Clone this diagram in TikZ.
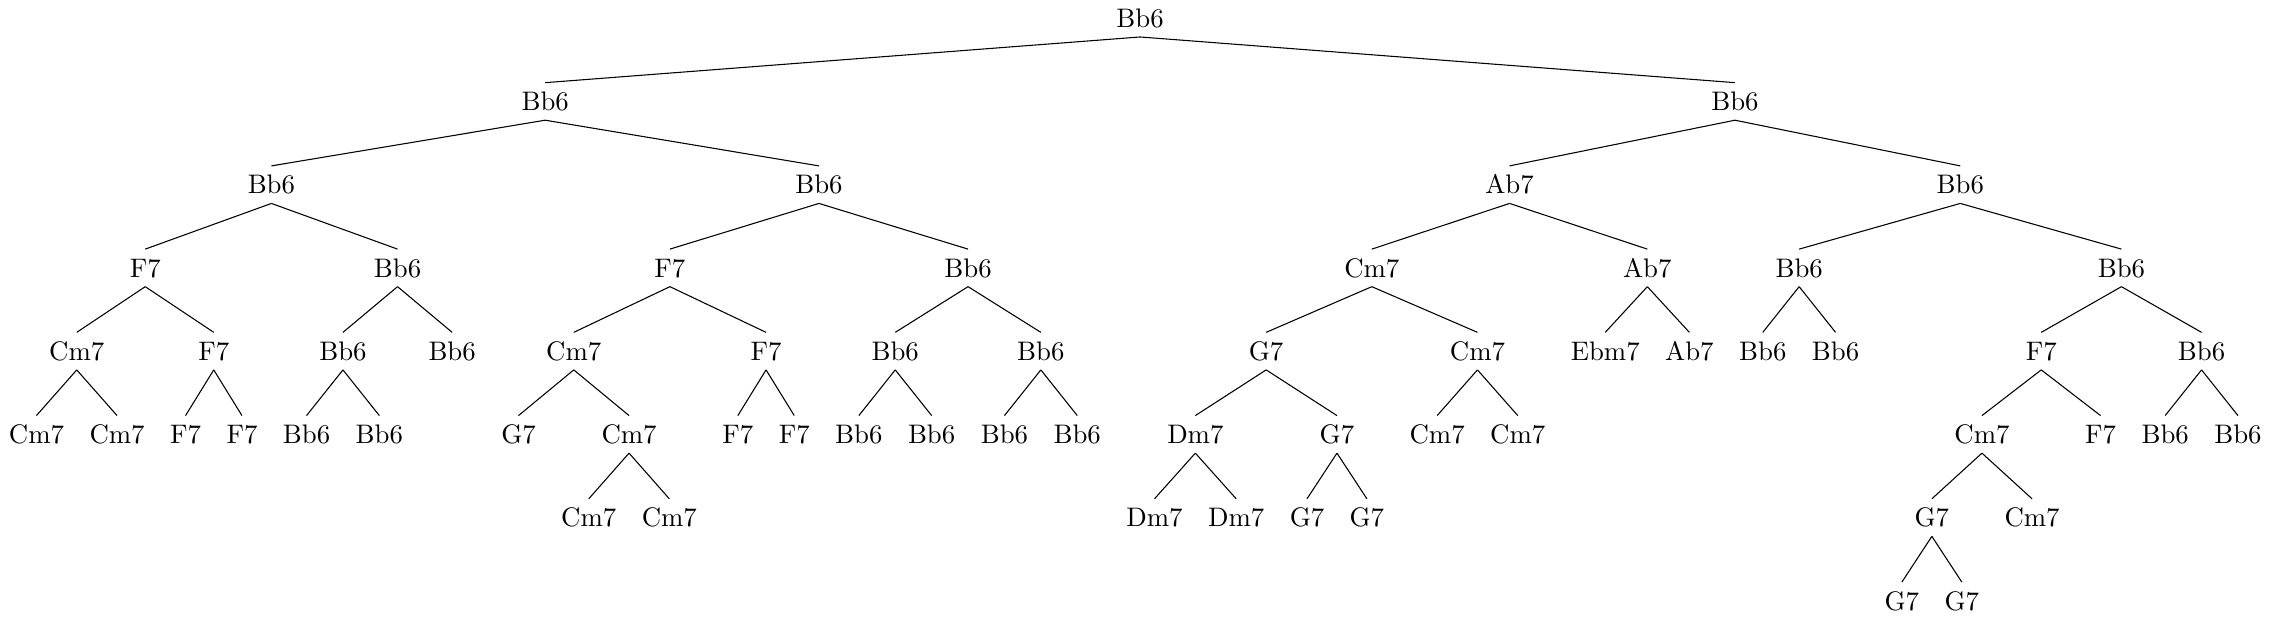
\documentclass[tikz,border=0pt]{standalone}
\begin{document}
\begin{tikzpicture}[x=0.37313pt,y=-0.37313pt,
  tn/.style={inner sep=3.333pt,text height=6.94pt,text depth=0pt,anchor=center},
  edge/.style={line width=0.4pt}]
\useasboundingbox (0,0) rectangle (2271,619);
\def\LA{18.2}\def\LB{101.43}\def\LC{184.66}\def\LD{267.89}
\def\LE{351.12}\def\LF{434.35}\def\LG{517.58}\def\LH{600.81}
% level 0
\node[tn] (r) at (1140.05,\LA) {Bb6};
% level 1
\node[tn] (a) at (545.19,\LB) {Bb6};
\node[tn] (b) at (1734.92,\LB) {Bb6};
% level 2
\node[tn] (aa) at (271.4,\LC) {Bb6};
\node[tn] (ab) at (818.98,\LC) {Bb6};
\node[tn] (ba) at (1509.56,\LC) {Ab7};
\node[tn] (bb) at (1960.28,\LC) {Bb6};
% level 3
\node[tn] (aaa) at (145.25,\LD) {F7};
\node[tn] (aab) at (397.55,\LD) {Bb6};
\node[tn] (aba) at (669.91,\LD) {F7};
\node[tn] (abb) at (968.05,\LD) {Bb6};
\node[tn] (baa) at (1371.8,\LD) {Cm7};
\node[tn] (bab) at (1647.33,\LD) {Ab7};
\node[tn] (bba) at (1799.15,\LD) {Bb6};
\node[tn] (bbb) at (2121.4,\LD) {Bb6};
% level 4
\node[tn] (aaaa) at (76.75,\LE) {Cm7};
\node[tn] (aaab) at (213.75,\LE) {F7};
\node[tn] (aaba) at (342.95,\LE) {Bb6};
\node[tn] (aabb) at (452.15,\LE) {Bb6};
\node[tn] (abaa) at (573.78,\LE) {Cm7};
\node[tn] (abab) at (766.05,\LE) {F7};
\node[tn] (abba) at (895.25,\LE) {Bb6};
\node[tn] (abbb) at (1040.85,\LE) {Bb6};
\node[tn] (baaa) at (1266.15,\LE) {G7};
\node[tn] (baab) at (1477.45,\LE) {Cm7};
\node[tn] (baba) at (1605.25,\LE) {Ebm7};
\node[tn] (babb) at (1689.4,\LE) {Ab7};
\node[tn] (bbaa) at (1762.75,\LE) {Bb6};
\node[tn] (bbab) at (1835.55,\LE) {Bb6};
\node[tn] (bbba) at (2041.25,\LE) {F7};
\node[tn] (bbbb) at (2201.55,\LE) {Bb6};
% level 5
\node[tn] (aaaaa) at (36.45,\LF) {Cm7};
\node[tn] (aaaab) at (117.05,\LF) {Cm7};
\node[tn] (aaaba) at (185.55,\LF) {F7};
\node[tn] (aaabb) at (241.95,\LF) {F7};
\node[tn] (aabaa) at (306.55,\LF) {Bb6};
\node[tn] (aabab) at (379.35,\LF) {Bb6};
\node[tn] (abaaa) at (518.5,\LF) {G7};
\node[tn] (abaab) at (629.05,\LF) {Cm7};
\node[tn] (ababa) at (737.85,\LF) {F7};
\node[tn] (ababb) at (794.25,\LF) {F7};
\node[tn] (abbaa) at (858.85,\LF) {Bb6};
\node[tn] (abbab) at (931.65,\LF) {Bb6};
\node[tn] (abbba) at (1004.45,\LF) {Bb6};
\node[tn] (abbbb) at (1077.25,\LF) {Bb6};
\node[tn] (baaaa) at (1195.35,\LF) {Dm7};
\node[tn] (baaab) at (1336.95,\LF) {G7};
\node[tn] (baaba) at (1437.15,\LF) {Cm7};
\node[tn] (baabb) at (1517.75,\LF) {Cm7};
\node[tn] (bbbaa) at (1981.95,\LF) {Cm7};
\node[tn] (bbbab) at (2100.55,\LF) {F7};
\node[tn] (bbbba) at (2165.15,\LF) {Bb6};
\node[tn] (bbbbb) at (2237.95,\LF) {Bb6};
% level 6
\node[tn] (abaaba) at (588.75,\LG) {Cm7};
\node[tn] (abaabb) at (669.35,\LG) {Cm7};
\node[tn] (baaaaa) at (1154.5,\LG) {Dm7};
\node[tn] (baaaab) at (1236.2,\LG) {Dm7};
\node[tn] (baaaba) at (1307.0,\LG) {G7};
\node[tn] (baaabb) at (1366.9,\LG) {G7};
\node[tn] (bbbaaa) at (1931.85,\LG) {G7};
\node[tn] (bbbaab) at (2032.05,\LG) {Cm7};
% level 7
\node[tn] (bbbaaaa) at (1901.9,\LH) {G7};
\node[tn] (bbbaaab) at (1961.8,\LH) {G7};
% edges
\foreach \p/\c in {r/a,r/b,a/aa,a/ab,b/ba,b/bb,
  aa/aaa,aa/aab,ab/aba,ab/abb,ba/baa,ba/bab,bb/bba,bb/bbb,
  aaa/aaaa,aaa/aaab,aab/aaba,aab/aabb,aba/abaa,aba/abab,abb/abba,abb/abbb,
  baa/baaa,baa/baab,bab/baba,bab/babb,bba/bbaa,bba/bbab,bbb/bbba,bbb/bbbb,
  aaaa/aaaaa,aaaa/aaaab,aaab/aaaba,aaab/aaabb,aaba/aabaa,aaba/aabab,
  abaa/abaaa,abaa/abaab,abab/ababa,abab/ababb,abba/abbaa,abba/abbab,
  abbb/abbba,abbb/abbbb,baaa/baaaa,baaa/baaab,baab/baaba,baab/baabb,
  bbba/bbbaa,bbba/bbbab,bbbb/bbbba,bbbb/bbbbb,
  abaab/abaaba,abaab/abaabb,baaaa/baaaaa,baaaa/baaaab,baaab/baaaba,baaab/baaabb,
  bbbaa/bbbaaa,bbbaa/bbbaab,bbbaaa/bbbaaaa,bbbaaa/bbbaaab}
  \draw[edge] (\p.south) -- (\c.north);
\end{tikzpicture}
\end{document}
